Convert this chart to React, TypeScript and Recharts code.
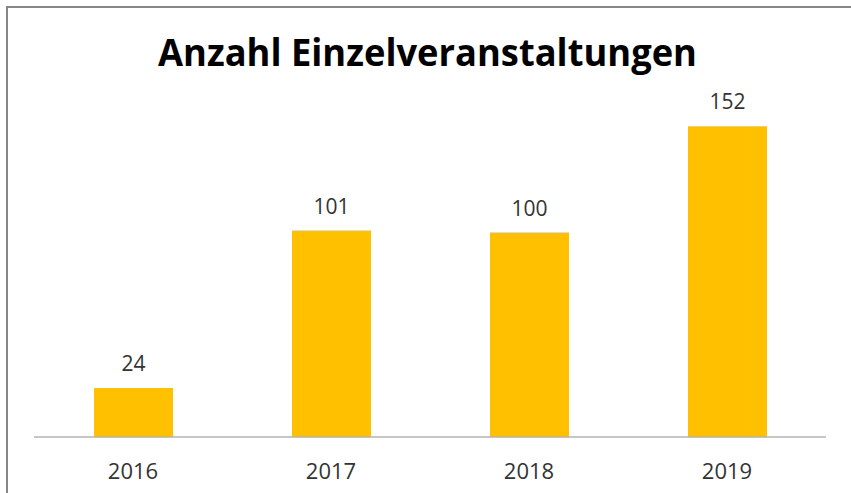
import React from "react";
import { BarChart, Bar, XAxis, YAxis, LabelList } from "recharts";

const years = ["2016", "2017", "2018", "2019"];
const events = [24, 101, 100, 152];

const data = years.map((year, i) => ({ year, events: events[i] }));

const FONT = "'Open Sans', 'Liberation Sans', sans-serif";

export default function App() {
  return (
    <div
      style={{
        position: "absolute",
        left: 0,
        top: 0,
        width: 851,
        height: 493,
        background: "#fff",
        overflow: "hidden",
      }}
    >
      {/* frame: only top and left edges are visible in the crop */}
      <div
        style={{
          position: "absolute",
          left: 6,
          top: 6,
          width: 900,
          height: 600,
          borderLeft: "2px solid #878787",
          borderTop: "2px solid #878787",
        }}
      />
      <svg
        width={851}
        height={100}
        style={{ position: "absolute", left: 0, top: 0 }}
      >
        <text
          x={427.5}
          y={66}
          textAnchor="middle"
          fontFamily={FONT}
          fontWeight={700}
          fontSize={38}
          fill="#000"
          textLength={539}
          lengthAdjust="spacingAndGlyphs"
        >
          Anzahl Einzelveranstaltungen
        </text>
      </svg>
      <div style={{ position: "absolute", left: 0, top: 0 }}>
        <BarChart
          width={851}
          height={493}
          data={data}
          margin={{ top: 69, right: 25, bottom: 26, left: 34 }}
        >
          <XAxis
            dataKey="year"
            height={30}
            axisLine={{ stroke: "#b3b3b3", strokeWidth: 1.5 }}
            tickLine={false}
            tickSize={6}
            tickMargin={20}
            tick={{ fill: "#333", fontSize: 22, fontFamily: FONT }}
          />
          <YAxis hide domain={[0, 180]} />
          <Bar
            dataKey="events"
            fill="#FFC000"
            barSize={79}
            isAnimationActive={false}
          >
            <LabelList
              dataKey="events"
              position="top"
              offset={17}
              fill="#333"
              fontSize={21}
              fontFamily={FONT}
            />
          </Bar>
        </BarChart>
      </div>
    </div>
  );
}
